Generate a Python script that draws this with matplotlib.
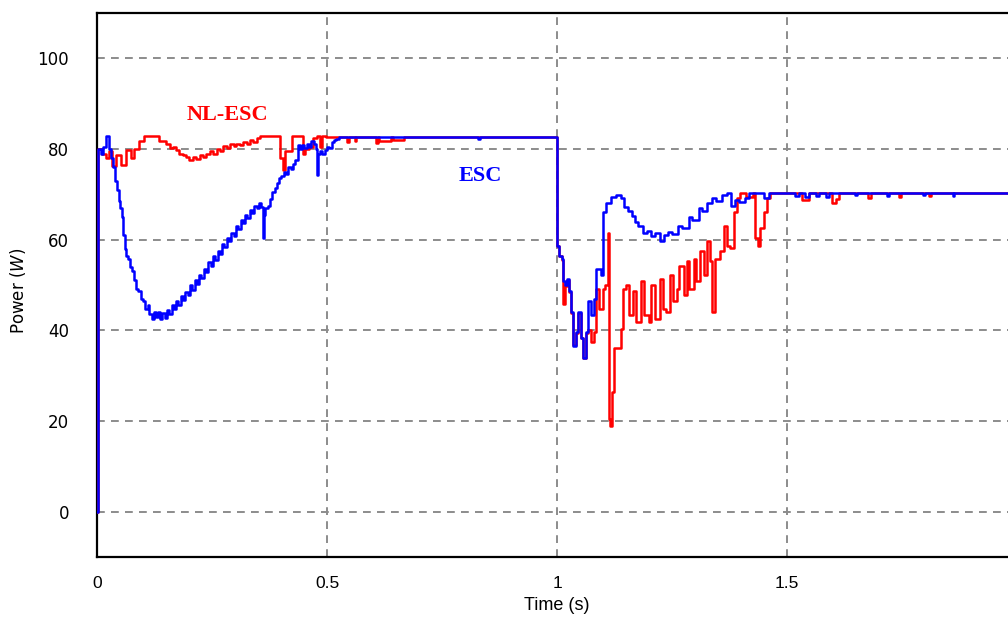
import matplotlib
matplotlib.use("Agg")
import matplotlib.pyplot as plt

# ---- NL-ESC power response (W) ----
nl_t = [0.000, 0.002, 0.011, 0.020, 0.026, 0.033, 0.041, 0.052, 0.063, 0.074,
        0.081, 0.092, 0.103, 0.135, 0.150, 0.159, 0.165, 0.172, 0.179, 0.186,
        0.193, 0.201, 0.208, 0.216, 0.223, 0.230, 0.236, 0.245, 0.252, 0.260,
        0.268, 0.274, 0.282, 0.290, 0.297, 0.303, 0.311, 0.318, 0.325, 0.332,
        0.340, 0.347, 0.354, 0.397, 0.404, 0.408, 0.413, 0.424, 0.426, 0.448,
        0.452, 0.460, 0.470, 0.478, 0.485, 0.490, 0.497, 0.544, 0.548, 0.560,
        0.562, 0.606, 0.610, 0.614, 0.640, 0.643, 0.668, 0.671, 1.000, 1.004,
        1.010, 1.013, 1.018, 1.022, 1.026, 1.030, 1.035, 1.041, 1.045, 1.052,
        1.057, 1.063, 1.068, 1.074, 1.080, 1.085, 1.092, 1.100, 1.104, 1.110,
        1.114, 1.116, 1.120, 1.124, 1.136, 1.140, 1.144, 1.151, 1.157, 1.166,
        1.172, 1.183, 1.190, 1.199, 1.205, 1.212, 1.223, 1.231, 1.238, 1.245,
        1.253, 1.260, 1.266, 1.275, 1.282, 1.288, 1.297, 1.303, 1.310, 1.319,
        1.325, 1.332, 1.338, 1.343, 1.354, 1.362, 1.369, 1.376, 1.384, 1.391,
        1.398, 1.410, 1.425, 1.430, 1.436, 1.441, 1.450, 1.456, 1.462, 1.533,
        1.548, 1.598, 1.606, 1.614, 1.677, 1.682, 1.743, 1.748, 1.808, 1.813,
        2.000]
nl_p = [0.0, 80.0, 79.0, 78.0, 79.5, 76.2, 78.6, 76.4, 79.7, 78.0,
        80.0, 81.7, 82.8, 81.8, 81.2, 80.2, 80.5, 79.7, 78.8, 78.6,
        78.2, 77.5, 78.3, 77.8, 78.6, 78.2, 79.0, 79.5, 79.0, 80.0,
        79.6, 80.6, 80.2, 81.0, 80.6, 81.2, 80.8, 81.6, 81.2, 81.9,
        81.5, 82.5, 82.8, 78.0, 75.3, 79.5, 79.5, 82.8, 82.8, 79.0,
        80.0, 80.5, 82.4, 82.8, 80.5, 82.8, 82.7, 81.5, 82.7, 81.8,
        82.7, 81.3, 82.7, 81.8, 82.7, 82.0, 82.7, 82.7, 58.5, 56.3,
        55.6, 45.9, 49.7, 51.2, 48.4, 43.9, 36.8, 39.5, 43.9, 38.4,
        34.0, 39.5, 40.0, 37.5, 39.7, 49.2, 44.8, 49.2, 49.9, 61.4,
        20.5, 19.0, 26.5, 36.0, 36.0, 40.4, 49.2, 49.9, 43.3, 48.6,
        41.9, 50.8, 43.3, 41.9, 49.9, 42.6, 51.4, 44.8, 44.1, 52.1,
        46.4, 49.2, 54.3, 47.7, 55.2, 49.2, 55.8, 50.8, 57.4, 52.1,
        59.6, 55.2, 44.1, 55.8, 57.4, 63.1, 58.7, 58.1, 66.2, 69.1,
        70.2, 69.5, 70.2, 60.3, 58.7, 62.5, 66.2, 69.1, 70.3, 68.7,
        70.3, 68.0, 69.0, 70.3, 69.3, 70.3, 69.5, 70.3, 69.6, 70.3,
        70.3]

# ---- ESC power response (W) ----
esc_t = [0.000, 0.002, 0.008, 0.014, 0.020, 0.026, 0.031, 0.035, 0.039, 0.043,
         0.047, 0.051, 0.054, 0.057, 0.061, 0.064, 0.068, 0.072, 0.076, 0.080,
         0.084, 0.090, 0.095, 0.100, 0.105, 0.110, 0.114, 0.119, 0.124, 0.128,
         0.133, 0.137, 0.142, 0.147, 0.152, 0.157, 0.162, 0.167, 0.172, 0.177,
         0.182, 0.187, 0.192, 0.197, 0.202, 0.207, 0.212, 0.217, 0.222, 0.227,
         0.232, 0.237, 0.242, 0.247, 0.252, 0.257, 0.262, 0.267, 0.272, 0.277,
         0.282, 0.287, 0.292, 0.297, 0.302, 0.307, 0.312, 0.317, 0.322, 0.327,
         0.332, 0.337, 0.342, 0.347, 0.352, 0.357, 0.360, 0.362, 0.366, 0.371,
         0.376, 0.381, 0.386, 0.391, 0.396, 0.401, 0.406, 0.411, 0.416, 0.421,
         0.426, 0.431, 0.436, 0.441, 0.446, 0.451, 0.456, 0.461, 0.466, 0.471,
         0.476, 0.478, 0.480, 0.485, 0.490, 0.495, 0.500, 0.505, 0.510, 0.515,
         0.520, 0.525, 0.828, 0.832, 1.000, 1.004, 1.010, 1.013, 1.018, 1.022,
         1.026, 1.030, 1.035, 1.041, 1.045, 1.052, 1.057, 1.063, 1.068, 1.074,
         1.080, 1.085, 1.096, 1.100, 1.107, 1.118, 1.129, 1.140, 1.146, 1.155,
         1.162, 1.170, 1.177, 1.188, 1.196, 1.205, 1.214, 1.223, 1.232, 1.242,
         1.250, 1.264, 1.272, 1.286, 1.294, 1.308, 1.316, 1.325, 1.336, 1.345,
         1.358, 1.370, 1.378, 1.386, 1.395, 1.408, 1.417, 1.445, 1.450, 1.460,
         1.517, 1.525, 1.540, 1.548, 1.562, 1.570, 1.585, 1.592, 1.648, 1.652,
         1.718, 1.722, 1.795, 1.799, 1.860, 1.864, 2.000]
esc_p = [0.0, 80.0, 79.0, 80.5, 82.8, 80.0, 78.0, 76.0, 73.0, 71.0,
         68.5, 67.0, 65.0, 61.0, 58.0, 56.5, 55.8, 54.0, 53.0, 51.0,
         49.2, 48.6, 47.0, 46.4, 44.8, 45.5, 43.5, 42.6, 44.0, 43.0,
         44.1, 42.6, 43.8, 42.8, 44.5, 43.5, 45.5, 44.6, 46.4, 45.5,
         47.5, 46.6, 48.5, 47.8, 49.9, 49.0, 51.0, 50.3, 52.1, 51.5,
         53.5, 52.8, 55.0, 54.3, 56.3, 55.6, 57.4, 56.8, 59.0, 58.3,
         60.3, 59.6, 61.5, 60.8, 63.1, 62.3, 64.3, 63.6, 65.5, 64.8,
         66.5, 65.8, 67.5, 67.0, 68.0, 67.3, 60.3, 65.5, 66.9, 67.5,
         69.0, 70.6, 71.5, 72.5, 73.5, 74.0, 75.0, 74.5, 76.0, 75.5,
         76.6, 77.5, 80.8, 80.0, 80.8, 80.2, 81.0, 80.5, 81.7, 81.2,
         80.0, 74.2, 79.0, 79.5, 78.8, 79.8, 80.5, 80.2, 81.5, 82.0,
         82.3, 82.7, 82.2, 82.7, 58.7, 56.5, 55.8, 50.8, 49.9, 51.4,
         48.6, 44.1, 36.6, 39.7, 44.1, 38.2, 33.8, 39.7, 46.4, 43.3,
         47.0, 53.6, 52.1, 66.2, 68.0, 69.5, 69.8, 69.1, 67.3, 66.3,
         65.3, 64.0, 63.1, 61.4, 62.0, 60.7, 61.5, 59.8, 61.0, 61.8,
         61.2, 63.1, 62.6, 65.1, 64.4, 66.9, 66.4, 68.0, 69.1, 68.6,
         69.8, 70.2, 67.5, 68.7, 68.2, 69.1, 70.2, 70.2, 69.1, 70.3,
         69.6, 70.3, 69.5, 70.3, 69.6, 70.3, 69.5, 70.3, 69.8, 70.3,
         69.7, 70.3, 69.8, 70.3, 69.7, 70.3, 70.3]

x_ticks = [0, 0.5, 1, 1.5, 2]
x_tick_labels = ["0", "0.5", "1", "1.5", "2"]
y_ticks = [0, 20, 40, 60, 80, 100]
y_tick_labels = ["0", "20", "40", "60", "80", "100"]

fig = plt.figure(figsize=(10.08, 6.22), dpi=100)
ax = fig.add_axes([97 / 1008, 1 - 557 / 622, 920 / 1008, 544 / 622])

ax.plot(nl_t, nl_p, color="#ff0000", lw=1.8, drawstyle="steps-post", zorder=3)
ax.plot(esc_t, esc_p, color="#0000ff", lw=1.8, drawstyle="steps-post", zorder=4)

ax.set_xlim(0, 2)
ax.set_ylim(-10, 110)
ax.set_xticks(x_ticks)
ax.set_xticklabels(x_tick_labels, family="Liberation Sans", fontsize=12.5)
ax.set_yticks(y_ticks)
ax.set_yticklabels(y_tick_labels, family="DejaVu Sans", fontsize=12)
ax.tick_params(axis="x", length=0, pad=14)
ax.tick_params(axis="y", length=0, pad=20)

ax.grid(True, color="#8c8c8c", lw=1.4, linestyle=(0, (4, 3.2)))
ax.set_axisbelow(True)
for s in ax.spines.values():
    s.set_linewidth(1.6)
    s.set_color("black")

ax.set_ylabel(r"Power ($\mathit{W}$)", family="DejaVu Sans", fontsize=12)
ax.yaxis.set_label_coords(-0.075, 0.49)
ax.set_xlabel("Time (s)", family="Liberation Sans", fontsize=13, labelpad=4)

ax.text(0.284, 87.4, "NL-ESC", color="#ff0000", fontsize=16, fontweight="bold",
        family="Liberation Serif", ha="center", va="center")
ax.text(0.834, 74.0, "ESC", color="#0000ff", fontsize=16, fontweight="bold",
        family="Liberation Serif", ha="center", va="center")

fig.savefig("out.png", dpi=100)
